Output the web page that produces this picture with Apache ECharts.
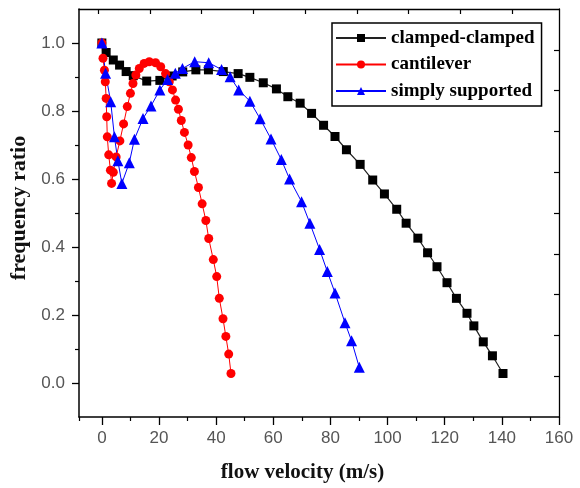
<!DOCTYPE html>
<html>
<head>
<meta charset="utf-8">
<script src="https://cdn.jsdelivr.net/npm/echarts@6/dist/echarts.min.js"></script>
<style>html,body{margin:0;padding:0;background:#fff}#c{width:580px;height:488px}</style>
</head>
<body>
<div id="c"></div>
<script>
// ---- data ----
const seriesNames = ['clamped-clamped', 'cantilever', 'simply supported'];

const clampedV = [0, 1.5, 4, 6.2, 8.5, 11, 15.7, 20.3, 24.6, 28.3, 32.9, 37.3, 42.5, 47.7, 51.8, 56.5, 61.1, 65.1, 69.4, 73.4, 77.6, 81.6, 85.6, 90.4, 94.8, 98.9, 103.2, 106.5, 110.6, 114.0, 117.3, 120.8, 124.1, 127.8, 130.2, 133.5, 136.7, 140.4];
const clampedR = [1.0, 0.972, 0.95, 0.935, 0.916, 0.904, 0.888, 0.89, 0.903, 0.915, 0.921, 0.921, 0.916, 0.91, 0.899, 0.883, 0.865, 0.842, 0.823, 0.793, 0.758, 0.725, 0.686, 0.643, 0.597, 0.556, 0.511, 0.47, 0.426, 0.383, 0.342, 0.295, 0.249, 0.205, 0.168, 0.121, 0.08, 0.028];

const cantV = [0, 0.4, 0.9, 1.2, 1.5, 1.7, 1.9, 2.4, 3.0, 3.4, 4.0, 5.0, 6.3, 7.6, 8.9, 10.0, 10.9, 11.9, 13.1, 14.8, 16.6, 18.8, 20.6, 22.3, 23.6, 24.7, 25.8, 26.8, 27.8, 28.9, 30.2, 31.3, 32.4, 33.8, 35.1, 36.4, 37.4, 39.0, 40.2, 41.1, 42.4, 43.4, 44.4, 45.2];
const cantR = [1.0, 0.955, 0.92, 0.886, 0.837, 0.783, 0.724, 0.671, 0.626, 0.587, 0.62, 0.665, 0.712, 0.762, 0.813, 0.852, 0.881, 0.906, 0.925, 0.94, 0.945, 0.942, 0.93, 0.91, 0.886, 0.862, 0.832, 0.805, 0.772, 0.737, 0.7, 0.663, 0.622, 0.575, 0.527, 0.478, 0.425, 0.363, 0.313, 0.249, 0.189, 0.137, 0.085, 0.028];

const simpV = [0, 1.3, 3.1, 4.4, 5.6, 7.0, 9.6, 11.4, 14.4, 17.2, 20.3, 23.0, 25.7, 28.2, 32.5, 37.4, 41.9, 44.9, 47.9, 51.8, 55.4, 59.2, 62.8, 65.7, 69.9, 72.8, 76.2, 78.9, 81.6, 85.1, 87.4, 90.1];
const simpR = [1.0, 0.911, 0.827, 0.724, 0.654, 0.587, 0.648, 0.717, 0.778, 0.815, 0.862, 0.893, 0.911, 0.925, 0.945, 0.942, 0.922, 0.901, 0.862, 0.829, 0.777, 0.718, 0.657, 0.6, 0.533, 0.47, 0.393, 0.328, 0.265, 0.177, 0.124, 0.046];

const xTicks = [0, 20, 40, 60, 80, 100, 120, 140, 160];
const xMinorTicks = [-8, 10, 30, 50, 70, 90, 110, 130, 150];
const yTicks = [0.0, 0.2, 0.4, 0.6, 0.8, 1.0];
const yMinorTicks = [0.1, 0.3, 0.5, 0.7, 0.9];
const topTicks = [0, 1, 2, 3, 4, 5, 6, 7, 8];
const rightTicks = [1, 2, 3, 4, 5, 6, 7, 8, 9];

// ---- chart ----
const zip = (a, b) => a.map((v, i) => [v, b[i]]);
const serif = '"Times New Roman", "Liberation Serif", serif';
const sans = 'Arial, "Liberation Sans", sans-serif';
const axisColor = '#000';

const chart = echarts.init(document.getElementById('c'), null, { renderer: 'canvas' });

chart.setOption({
  animation: false,
  backgroundColor: '#fff',
  grid: { left: 79, right: 21, top: 9, bottom: 71, containLabel: false },
  legend: {
    orient: 'vertical', left: 332, top: 23,
    padding: [5, 7, 5, 3],
    itemWidth: 50, itemHeight: 10, itemGap: 6.5,
    borderColor: '#000', borderWidth: 1.5, backgroundColor: '#fff',
    textStyle: { fontFamily: serif, fontWeight: 'bold', fontSize: 19, color: '#000', lineHeight: 20 },
    data: seriesNames
  },
  xAxis: [
    {
      type: 'value', position: 'bottom', min: -8, max: 160,
      name: 'flow velocity (m/s)', nameLocation: 'middle', nameGap: 45,
      nameTextStyle: { fontFamily: serif, fontWeight: 'bold', fontSize: 21, color: '#111', padding: [0, 33, 0, 0] },
      axisLine: { show: true, onZero: false, lineStyle: { color: axisColor, width: 1.5 } },
      axisTick: { show: true, inside: false, length: 8, customValues: xTicks, lineStyle: { color: axisColor, width: 1.3 } },
      axisLabel: { show: true, margin: 13, customValues: xTicks, fontFamily: sans, fontSize: 17, color: '#555' },
      splitLine: { show: false }
    },
    {
      type: 'value', position: 'bottom', min: -8, max: 160,
      axisLine: { show: false, onZero: false },
      axisTick: { show: true, inside: false, length: 4, customValues: xMinorTicks, lineStyle: { color: axisColor, width: 1.2 } },
      axisLabel: { show: false },
      splitLine: { show: false }
    },
    {
      type: 'value', position: 'top', min: -0.373, max: 8.911,
      axisLine: { show: true, onZero: false, lineStyle: { color: axisColor, width: 1.3 } },
      axisTick: { show: true, inside: true, length: 5, customValues: topTicks, lineStyle: { color: axisColor, width: 1.2 } },
      axisLabel: { show: false },
      splitLine: { show: false }
    }
  ],
  yAxis: [
    {
      type: 'value', position: 'left', min: -0.1, max: 1.1,
      name: 'frequency ratio', nameLocation: 'middle', nameGap: 42, nameRotate: 90,
      nameTextStyle: { fontFamily: serif, fontWeight: 'bold', fontSize: 22, color: '#111', padding: [0, 0, 0, 10] },
      axisLine: { show: true, onZero: false, lineStyle: { color: axisColor, width: 1.5 } },
      axisTick: { show: true, inside: false, length: 7, customValues: yTicks, lineStyle: { color: axisColor, width: 1.3 } },
      axisLabel: { show: true, margin: 14, customValues: yTicks, formatter: v => v.toFixed(1), fontFamily: sans, fontSize: 17, color: '#555' },
      splitLine: { show: false }
    },
    {
      type: 'value', position: 'left', min: -0.1, max: 1.1,
      axisLine: { show: false, onZero: false },
      axisTick: { show: true, inside: false, length: 4, customValues: yMinorTicks, lineStyle: { color: axisColor, width: 1.2 } },
      axisLabel: { show: false },
      splitLine: { show: false }
    },
    {
      type: 'value', position: 'right', min: 0, max: 10,
      axisLine: { show: true, onZero: false, lineStyle: { color: axisColor, width: 1.3 } },
      axisTick: { show: true, inside: true, length: 5, customValues: rightTicks, lineStyle: { color: axisColor, width: 1.2 } },
      axisLabel: { show: false },
      splitLine: { show: false }
    }
  ],
  series: [
    {
      name: seriesNames[0], type: 'line', xAxisIndex: 0, yAxisIndex: 0,
      data: zip(clampedV, clampedR), symbol: 'rect', symbolSize: 9, showAllSymbol: true,
      itemStyle: { color: '#000' }, lineStyle: { color: '#222', width: 1.2 }
    },
    {
      name: seriesNames[1], type: 'line', xAxisIndex: 0, yAxisIndex: 0,
      data: zip(cantV, cantR), symbol: 'circle', symbolSize: 9, showAllSymbol: true,
      itemStyle: { color: '#ff0000' }, lineStyle: { color: '#ff0000', width: 1 }
    },
    {
      name: seriesNames[2], type: 'line', xAxisIndex: 0, yAxisIndex: 0,
      data: zip(simpV, simpR), symbol: 'triangle', symbolSize: 11, showAllSymbol: true,
      itemStyle: { color: '#0000ff' }, lineStyle: { color: '#0000ff', width: 1 }
    }
  ]
});
</script>
</body>
</html>
